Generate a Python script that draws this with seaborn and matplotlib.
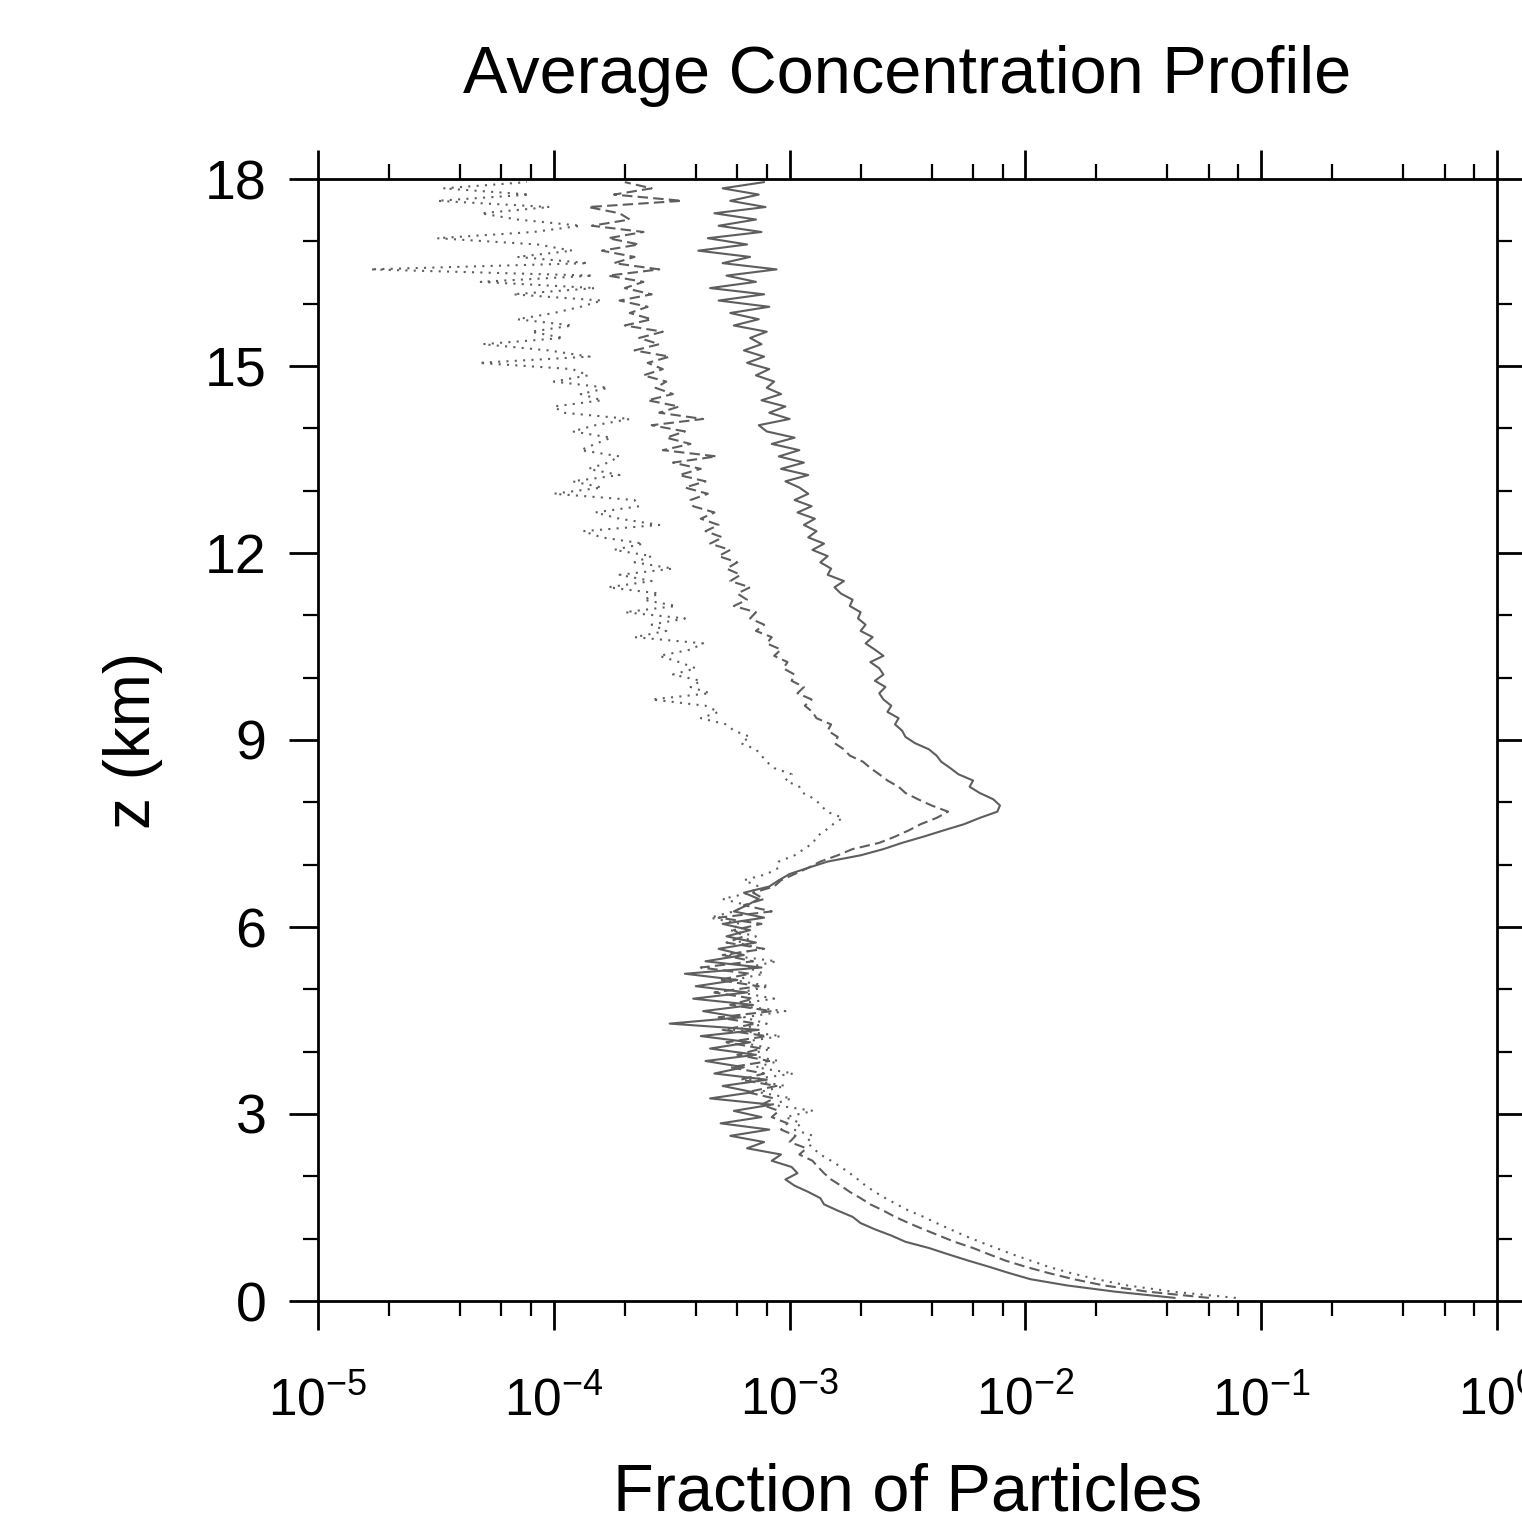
import numpy as np
import pandas as pd
import matplotlib
matplotlib.use("Agg")
import matplotlib.pyplot as plt
from matplotlib.ticker import LogLocator, FixedLocator, FuncFormatter, NullFormatter
import seaborn as sns

# heights of the model levels (km), layer mid points
z_km = np.round(np.arange(0.05, 18.0, 0.1), 2)

# fraction of particles, in units of 1e-4, one row per km
solid_e4 = [
    430, 240, 150, 105, 85, 70, 57, 47, 39, 31,
    27, 23, 20, 18.5, 16, 14, 13.5, 12, 10.5, 9.6,
    10.8, 10.2, 8.4, 9.2, 6.6, 7.8, 5.6, 8.2, 5.1, 7.6,
    5.8, 8.4, 4.6, 7.0, 5.2, 8.0, 4.8, 6.4, 4.4, 7.2,
    4.6, 6.8, 4.2, 7.4, 3.1, 6.2, 4.3, 7.0, 3.9, 6.6,
    4.0, 6.0, 3.6, 7.6, 4.4, 6.4, 5.0, 7.2, 5.4, 6.8,
    5.2, 7.8, 5.8, 6.6, 7.4, 6.4, 8.2, 9.0, 10.0, 12.0,
    14.5, 20, 25, 30, 37, 45, 55, 64, 76, 78,
    73, 64, 58, 60, 52, 48, 44, 42, 39, 34,
    31, 30, 28, 29, 26, 27, 25, 24, 25.5, 23,
    25, 24, 22, 25, 23, 21, 22.5, 20, 21, 19.5,
    20, 18, 18.5, 16.5, 15.5, 17, 14.5, 15, 13.5, 14.5,
    12.5, 14, 12, 13, 11.5, 12.8, 10.8, 12.4, 10.5, 12,
    11, 9.6, 12, 9.2, 11.5, 9.0, 11, 8.4, 10.5, 8.0,
    7.4, 10, 8.2, 9.6, 7.6, 9.2, 8.0, 8.6, 7.2, 8.2,
    6.6, 7.8, 6.4, 7.6, 6.8, 8.0, 5.8, 7.4, 5.6, 8.2,
    5.0, 7.8, 4.6, 7.2, 5.4, 8.8, 5.2, 6.8, 4.1, 6.6,
    4.5, 7.6, 5.0, 7.2, 4.8, 7.9, 5.6, 7.4, 5.2, 7.8,
]

dashed_e4 = [
    600, 330, 215, 160, 125, 100, 82, 70, 60, 50,
    43, 37, 32, 28, 25, 22, 20, 18, 16.5, 15,
    14, 13.2, 12.5, 11, 11.8, 10, 10.6, 9.2, 9.8, 8.4,
    9.0, 7.6, 8.6, 6.6, 8.8, 6.2, 7.8, 5.6, 8.2, 6.0,
    7.6, 5.4, 8.0, 5.2, 7.2, 5.0, 8.4, 5.6, 7.0, 4.8,
    7.4, 5.0, 6.8, 4.2, 7.0, 5.2, 7.8, 5.4, 6.4, 5.8,
    7.6, 5.0, 8.4, 6.4, 7.8, 7.0, 8.6, 9.2, 10.5, 12,
    13.5, 16, 18.5, 24, 28, 32, 36, 42, 47, 40,
    35, 31, 29, 26, 24, 22, 20.5, 18, 17, 15.5,
    16, 14.5, 15, 13, 12.5, 11.6, 12.4, 10.8, 11.5, 10.2,
    10.5, 9.4, 9.8, 8.6, 9.2, 8.0, 8.4, 7.2, 7.8, 6.8,
    7.2, 5.8, 6.6, 6.0, 6.8, 5.6, 6.2, 5.4, 6.0, 5.0,
    5.6, 4.6, 5.2, 4.4, 5.0, 4.2, 4.8, 3.9, 3.8, 4.5,
    3.6, 4.4, 3.4, 4.2, 3.2, 4.9, 2.9, 3.8, 3.0, 3.6,
    2.6, 4.3, 2.8, 3.4, 2.5, 3.2, 2.7, 3.0, 2.4, 2.9,
    2.5, 3.1, 2.2, 2.8, 2.3, 2.9, 2.0, 2.6, 2.1, 2.5,
    1.9, 2.6, 2.0, 2.4, 1.7, 2.8, 1.8, 2.2, 1.6, 2.3,
    1.7, 2.4, 1.45, 2.1, 1.9, 1.4, 3.5, 1.8, 2.6, 2.0,
]

dotted_e4 = [
    780, 420, 270, 200, 155, 125, 105, 88, 75, 64,
    55, 48, 42, 37, 32, 28.5, 25.5, 23, 21, 19.5,
    18, 16.5, 15, 13.5, 12.6, 11.8, 12.6, 10.4, 11.2, 9.6,
    12.6, 8.4, 10.2, 7.4, 9.6, 6.8, 10.4, 7.2, 9.0, 6.6,
    8.4, 6.2, 9.2, 5.8, 8.0, 6.4, 9.6, 5.6, 8.6, 6.2,
    8.2, 5.8, 7.8, 6.6, 8.8, 5.4, 7.6, 6.0, 7.2, 5.6,
    6.2, 4.6, 5.8, 6.6, 5.2, 6.8, 7.4, 6.4, 8.0, 9.0,
    9.0, 10.5, 11.5, 12.6, 13.0, 14.2, 15.3, 16.8, 14.4, 13.6,
    12.8, 11.4, 11.0, 9.6, 10.2, 8.6, 8.0, 7.6, 7.2, 6.2,
    6.8, 5.8, 5.4, 4.2, 5.0, 4.4, 2.6, 4.6, 3.8, 4.2,
    3.2, 4.0, 3.4, 2.8, 3.8, 4.3, 2.2, 3.0, 2.6, 3.6,
    2.0, 3.3, 2.4, 2.8, 1.7, 2.6, 1.9, 3.2, 2.2, 2.6,
    1.8, 2.4, 1.6, 1.33, 2.8, 1.9, 1.5, 2.3, 2.2, 1.0,
    1.6, 1.2, 1.9, 1.4, 1.7, 1.9, 1.3, 1.5, 1.75, 1.2,
    1.5, 2.1, 1.1, 1.0, 1.6, 1.3, 1.7, 1.0, 1.4, 1.2,
    0.48, 1.42, 0.95, 0.5, 1.1, 0.8, 1.2, 0.7, 1.0, 1.3,
    1.6, 0.67, 1.5, 0.49, 1.47, 0.166, 1.4, 0.7, 1.2, 0.85,
    0.32, 0.82, 1.3, 0.7, 0.49, 0.96, 0.32, 0.79, 0.34, 0.77,
]

series_names = ["solid", "dashed", "dotted"]
x_decades = [-5, -4, -3, -2, -1, 0]
y_major = [0, 3, 6, 9, 12, 15, 18]

frames = []
for name, vals in zip(series_names, [solid_e4, dashed_e4, dotted_e4]):
    frames.append(pd.DataFrame({"z": z_km, "frac": np.array(vals) * 1e-4, "run": name}))
df = pd.concat(frames, ignore_index=True)

sns.set_theme(style="ticks")
plt.rcParams["font.family"] = ["Liberation Sans", "DejaVu Sans"]
plt.rcParams["mathtext.fontset"] = "custom"
plt.rcParams["mathtext.rm"] = "Liberation Sans"
plt.rcParams["mathtext.it"] = "Liberation Sans"
for key in ["text.color", "axes.labelcolor", "xtick.color", "ytick.color"]:
    plt.rcParams[key] = "black"

fig = plt.figure(figsize=(15.22, 15.24), dpi=100)
ax = fig.add_axes([318 / 1522, 1 - 1301 / 1524, (1497 - 318) / 1522, (1301 - 179) / 1524])

line_styles = {"solid": "-", "dashed": (0, (5, 2.5)), "dotted": (0, (1, 3))}
for name in series_names:
    sub = df[df["run"] == name]
    sns.lineplot(data=sub, x="frac", y="z", sort=False, orient="y", estimator=None,
                 color="#5e5e5e", linewidth=1.5, linestyle=line_styles[name], ax=ax)

ax.set_xscale("log")
ax.set_xlim(1e-5, 1.0)
ax.set_ylim(0, 18)
ax.xaxis.set_major_locator(FixedLocator([10.0 ** d for d in x_decades]))
ax.xaxis.set_minor_locator(LogLocator(base=10, subs=[2, 4, 6, 8], numticks=20))
ax.xaxis.set_minor_formatter(NullFormatter())
ax.xaxis.set_major_formatter(FuncFormatter(lambda v, p: r"10$^{%d}$" % round(np.log10(v))))
ax.yaxis.set_major_locator(FixedLocator(y_major))
ax.yaxis.set_minor_locator(FixedLocator(range(0, 19)))

for s in ax.spines.values():
    s.set_visible(True)
    s.set_linewidth(2.0)
    s.set_color("black")

ax.tick_params(which="both", direction="out", top=True, right=True, color="black")
ax.tick_params(which="major", length=21, width=2.0)
ax.tick_params(which="minor", length=11, width=1.6)
ax.tick_params(axis="x", which="major", labelsize=37, pad=33)
ax.tick_params(axis="y", which="major", labelsize=40, pad=16)

ax.set_xlabel("Fraction of Particles", fontsize=48, labelpad=26)
ax.set_ylabel("z (km)", fontsize=46, labelpad=30)
ax.set_title("Average Concentration Profile", fontsize=48, pad=62)

fig.savefig("out.png", dpi=100)
